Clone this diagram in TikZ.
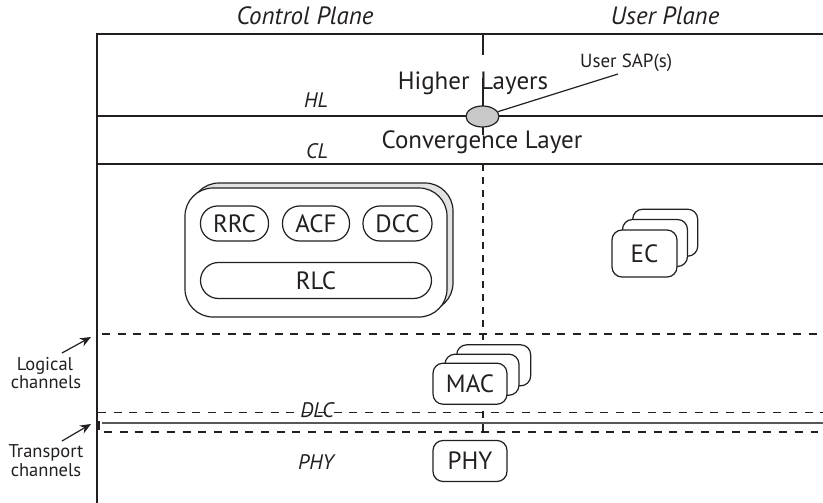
\documentclass[tikz,border=0pt]{standalone}
\usepackage{fontspec}
\setmainfont{PT Sans}
\usetikzlibrary{arrows.meta,shapes.geometric}

\definecolor{ink}{HTML}{231F20}
\definecolor{shade}{HTML}{E2E2E2}
\definecolor{sapgray}{HTML}{C8C8C8}

\tikzset{
  base/.style={line width=1.2pt, draw=ink},
  bigtxt/.style={font=\fontsize{25}{29}\selectfont, text=ink, inner sep=0pt},
  planetxt/.style={font=\fontsize{25}{29}\selectfont\itshape, text=ink, inner sep=0pt},
  layertxt/.style={font=\fontsize{21}{24}\selectfont\itshape, text=ink, inner sep=0pt},
  sidetxt/.style={font=\fontsize{18.5}{21}\selectfont, text=ink, inner sep=0pt},
  saptxt/.style={font=\fontsize{19}{22}\selectfont, text=ink, inner sep=0pt},
  pill/.style={base, fill=white, rounded corners=17pt, inner sep=0pt,
    minimum height=35pt, font=\fontsize{25}{29}\selectfont, text=ink},
  entity/.style={base, fill=white, rounded corners=10pt, inner sep=0pt,
    font=\fontsize{25}{29}\selectfont, text=ink},
  hdash/.style={base, dash pattern=on 8pt off 7.7pt},
  vdash/.style={base, dash pattern=on 7pt off 6pt},
  pointer/.style={base, -{Stealth[length=11pt,width=9pt]}},
}

\begin{document}
\begin{tikzpicture}[x=1pt,y=-1pt]
\useasboundingbox (0,0) rectangle (823,503);

% plane headings
\node[planetxt, anchor=base] (cplane) at (305,25) {Control Plane};
\node[planetxt, anchor=base] (uplane) at (665,25) {User Plane};

% outer frame and layer boundaries
\draw[base] (97,503) -- (97,34) -- (823,34);
\draw[base] (97,116) -- (823,116);
\draw[base] (97,164) -- (823,164);

% plane separator
\draw[base] (483,34) -- (483,55);
\draw[base] (483,78) -- (483,106);
\draw[base] (483,127) -- (483,135);
\draw[vdash] (483,164) -- (483,436);

% channel boundaries
\draw[hdash] (102,334) -- (823,334);
\draw[hdash] (98,412.7) -- (823,412.7);
\draw[line width=1.7pt, draw=ink!75] (102,422.7) -- (823,422.7);
\draw[hdash] (104,432) -- (818,432);
\draw[line width=1.8pt, draw=ink] (98.6,421) -- (98.6,430);

% layer names
\node[bigtxt, anchor=base] (hl) at (473,90) {Higher\hspace{4pt} Layers};
\node[bigtxt, anchor=base] (cl) at (482,148) {Convergence Layer};
\node[layertxt, anchor=base] (hltag) at (316,107) {HL};
\node[layertxt, anchor=base] (cltag) at (317,158) {CL};
\node[layertxt, anchor=base] (dlctag) at (317,417) {DLC};
\node[layertxt, anchor=base] (phytag) at (316,469) {PHY};

% user service access point
\node[ellipse, base, fill=sapgray, minimum width=33pt, minimum height=21pt,
      inner sep=0pt] (sap) at (482.5,116.5) {};
\node[saptxt, anchor=base west] (saplabel) at (580,68) {User SAP(s)};
\coordinate (sapend) at (618,74);
\draw[base] (sap) -- (sapend);

% control plane entities
\node[base, fill=shade, rounded corners=28pt, minimum width=262pt,
      minimum height=128pt] (cpback) at (322,247) {};
\node[base, fill=white, rounded corners=28pt, minimum width=262pt,
      minimum height=129pt] (cpfront) at (316,252.5) {};
\node[pill, minimum width=68pt] (rrc) at (234.5,223.5) {RRC};
\node[pill, minimum width=67pt] (acf) at (316,223.5) {ACF};
\node[pill, minimum width=69pt] (dcc) at (397.5,223.5) {DCC};
\node[pill, minimum width=231pt, minimum height=36pt, rounded corners=18pt]
      (rlc) at (316,280.5) {RLC};

% error control instances
\node[entity, minimum width=65pt, minimum height=47pt] (ecc) at (665.2,232.7) {};
\node[entity, minimum width=65pt, minimum height=47pt] (ecb) at (655,243) {};
\node[entity, minimum width=65pt, minimum height=47pt] (eca) at (644.5,253.5) {EC};

% medium access control instances
\node[entity, minimum width=74pt, minimum height=41pt] (macc) at (493.7,365.3) {};
\node[entity, minimum width=74pt, minimum height=41pt] (macb) at (482,374.7) {};
\node[entity, minimum width=74pt, minimum height=41pt] (maca) at (470,383.7) {MAC};

% physical layer
\node[entity, minimum width=74pt, minimum height=41pt] (phy) at (470,461) {PHY};

% channel annotations
\node[sidetxt, anchor=base] (logA) at (45,370) {Logical};
\node[sidetxt, anchor=base] (logB) at (46,388) {channels};
\coordinate (logtail) at (62,353);
\coordinate (loghead) at (91,337);
\draw[pointer] (logtail) -- (loghead);

\node[sidetxt, anchor=base] (trA) at (46,457) {Transport};
\node[sidetxt, anchor=base] (trB) at (46,476) {channels};
\coordinate (trtail) at (62,441);
\coordinate (trhead) at (91,424);
\draw[pointer] (trtail) -- (trhead);
\end{tikzpicture}
\end{document}
